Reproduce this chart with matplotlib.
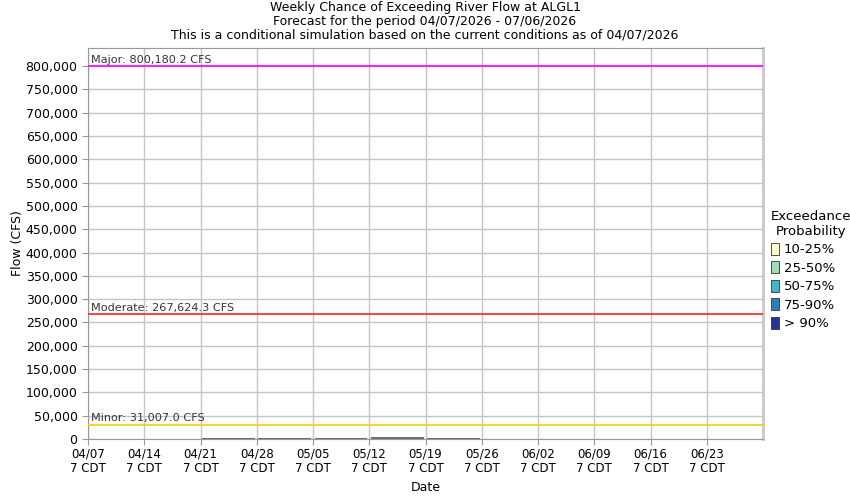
import matplotlib
matplotlib.use("Agg")
import matplotlib.pyplot as plt
from matplotlib.patches import Patch
from matplotlib.ticker import FuncFormatter

# weekly periods starting 04/07/2026
week_labels = ['04/07', '04/14', '04/21', '04/28', '05/05', '05/12',
               '05/19', '05/26', '06/02', '06/09', '06/16', '06/23']
bar_weeks = [2, 3, 4, 5, 6]
bar_values = [2100, 2100, 2100, 4200, 2100]

thresholds = [('Major', 800180.2, '#ff00ff'),
              ('Moderate', 267624.3, '#ff2020'),
              ('Minor', 31007.0, '#f5d000')]

legend_labels = ['10-25%', '25-50%', '50-75%', '75-90%', '> 90%']
legend_colors = ['#ffffcc', '#a1dab4', '#41b6c4', '#2c7fb8', '#253494']

plt.rcParams['font.family'] = 'DejaVu Sans'

fig = plt.figure(figsize=(8.5, 5), dpi=100)
ax = fig.add_axes([88 / 850, 61 / 500, 675 / 850, 391 / 500])

ax.bar([w + 0.03 for w in bar_weeks], bar_values, width=0.92, align='edge',
       color='#77776a', edgecolor='#5e5e52', linewidth=0.6, zorder=3)

for name, val, col in thresholds:
    ax.axhline(val, color=col, linewidth=1.2, zorder=4)
    ax.text(0.05, val + 3000, f'{name}: {val:,.1f} CFS', fontsize=8.1,
            color='#333333', va='bottom', ha='left', zorder=5)

ax.set_xlim(0, 12)
ax.set_ylim(0, 839000)
ax.set_xticks(range(len(week_labels)))
ax.set_xticklabels([f'{d}\n7 CDT' for d in week_labels], fontsize=8.5)
ax.set_yticks(range(0, 800001, 50000))
ax.yaxis.set_major_formatter(FuncFormatter(lambda v, p: f'{int(v):,}'))
ax.tick_params(axis='y', labelsize=9, length=4, color='#999999')
ax.tick_params(axis='x', length=4, color='#999999', pad=2)
ax.grid(True, color='#c4c4c4', linewidth=1, zorder=0)
ax.set_axisbelow(True)
for side in ['left', 'bottom', 'top']:
    ax.spines[side].set_color('#999999')
ax.spines['right'].set_color('#c8c8c8')
ax.spines['right'].set_linewidth(2)

ax.set_xlabel('Date', fontsize=9, labelpad=4)
ax.set_ylabel('Flow (CFS)', fontsize=9, labelpad=1)

fig.text(0.5, 1 - 8 / 500, 'Weekly Chance of Exceeding River Flow at ALGL1',
         ha='center', va='center', fontsize=9)
fig.text(0.5, 1 - 21 / 500, 'Forecast for the period 04/07/2026 - 07/06/2026',
         ha='center', va='center', fontsize=9)
fig.text(0.5, 1 - 35 / 500,
         'This is a conditional simulation based on the current conditions as of 04/07/2026',
         ha='center', va='center', fontsize=9)

handles = [Patch(facecolor=c, edgecolor='#333333', linewidth=0.6) for c in legend_colors]
leg = fig.legend(handles, legend_labels, title='Exceedance\nProbability',
                 loc='upper left', bbox_to_anchor=(771 / 850, 1 - 210 / 500),
                 frameon=False, fontsize=9.5, title_fontsize=9.5,
                 handlelength=0.6, handleheight=1.0, handletextpad=0.35,
                 labelspacing=0.38, borderaxespad=0, borderpad=0)
leg.get_title().set_multialignment('center')
leg._legend_box.align = 'left'

fig.savefig('out.png', dpi=100)
